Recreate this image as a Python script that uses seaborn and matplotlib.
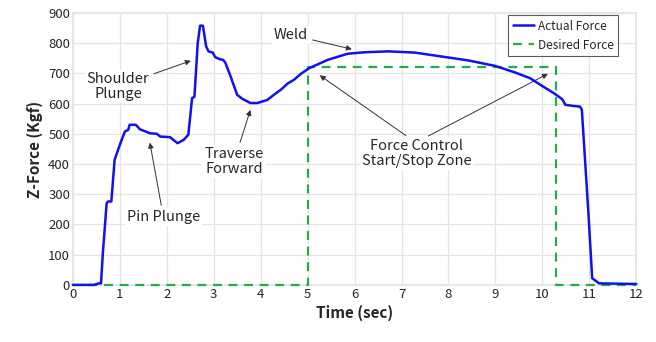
import numpy as np
import pandas as pd
import matplotlib
matplotlib.use("Agg")
import matplotlib.pyplot as plt
import seaborn as sns

# actual force
actual_t = [0.0, 0.45, 0.55, 0.6, 0.64, 0.72, 0.75, 0.82, 0.89, 0.97, 1.04, 1.11, 1.18,
            1.21, 1.34, 1.43, 1.64, 1.79, 1.86, 2.07, 2.23, 2.36, 2.46, 2.54, 2.59, 2.66,
            2.71, 2.77, 2.84, 2.89, 2.98, 3.03, 3.13, 3.2, 3.25, 3.36, 3.5, 3.61, 3.78,
            3.93, 4.14, 4.28, 4.43, 4.57, 4.71, 4.86, 5.03, 5.43, 5.85, 6.21, 6.71, 7.28,
            7.85, 8.42, 8.99, 9.42, 9.74, 9.99, 10.24, 10.42, 10.49, 10.63, 10.8, 10.84,
            10.98, 11.06, 11.21, 12.0]
actual_f = [0, 0, 5, 5, 106, 270, 276, 276, 414, 450, 480, 508, 513,
            530, 530, 515, 502, 500, 491, 489, 469, 480, 497, 618, 623, 800,
            858, 858, 789, 773, 769, 754, 747, 745, 735, 690, 629, 616, 602,
            602, 612, 629, 646, 666, 679, 699, 717, 745, 765, 770, 773, 769,
            756, 743, 725, 703, 684, 659, 635, 615, 596, 593, 590, 580,
            237, 22, 5, 3]

# desired force step profile
desired_t = [0.0, 5.0, 5.0, 10.29, 10.29, 12.0]
desired_f = [0, 0, 720, 720, 0, 0]

x_ticks = list(range(0, 13))
y_ticks = list(range(0, 1000, 100))

sns.set_theme(style="whitegrid")
plt.rcParams['font.family'] = ['Noto Sans CJK KR', 'DejaVu Sans']

fig = plt.figure(figsize=(6.56, 3.42), dpi=100)
ax = fig.add_axes([0.111, 0.167, 0.859, 0.795])

sns.lineplot(x=actual_t, y=actual_f, ax=ax, color="#1010F0", linewidth=1.8,
             estimator=None, sort=False, label="Actual Force", clip_on=False, zorder=4)
sns.lineplot(x=desired_t, y=desired_f, ax=ax, color="#1FAF4A", linewidth=1.6,
             estimator=None, sort=False, label="Desired Force", linestyle=(0, (4, 3)),
             clip_on=False, zorder=3)

ax.set_xlim(0, 12)
ax.set_ylim(0, 900)
ax.set_xticks(x_ticks)
ax.set_yticks(y_ticks)
ax.tick_params(labelsize=9.5, pad=2, length=0)
ax.grid(color="#e4e4e4", linewidth=0.9)
for s in ax.spines.values():
    s.set_color("#e4e4e4")
ax.set_xlabel("Time (sec)", fontsize=11, fontweight="bold", labelpad=3)
ax.set_ylabel("Z-Force (Kgf)", fontsize=11, fontweight="bold", labelpad=4)

leg = ax.legend(loc="upper right", bbox_to_anchor=(0.968, 0.993), fontsize=8.5,
                frameon=True, fancybox=False, borderaxespad=0.0,
                handlelength=1.8, handletextpad=0.3)
leg.get_frame().set_edgecolor("#333333")
leg.get_frame().set_linewidth(0.8)

box = dict(facecolor="white", edgecolor="none", pad=1.5)
arrow = dict(arrowstyle="-|>", color="#333333", lw=0.7, mutation_scale=8)
fs = 10.5

ax.annotate("Shoulder\nPlunge", xy=(2.57, 745), xytext=(0.96, 657), ha="center",
            va="center", fontsize=fs, bbox=box, arrowprops=arrow, linespacing=1.1)
ax.annotate("Pin Plunge", xy=(1.63, 480), xytext=(1.93, 224), ha="center",
            va="center", fontsize=fs, bbox=box, arrowprops=arrow)
ax.annotate("Traverse\nForward", xy=(3.8, 588), xytext=(3.43, 408), ha="center",
            va="center", fontsize=fs, bbox=box, arrowprops=arrow, linespacing=1.1)
ax.annotate("Weld", xy=(6.0, 778), xytext=(4.64, 828), ha="center",
            va="center", fontsize=fs, bbox=box, arrowprops=arrow)
ax.annotate("Force Control\nStart/Stop Zone", xy=(5.21, 699), xytext=(7.32, 434),
            ha="center", va="center", fontsize=fs, bbox=box,
            arrowprops=dict(arrow, relpos=(0.45, 1.0)), linespacing=1.1)
ax.annotate("Force Control\nStart/Stop Zone", xy=(10.17, 703), xytext=(7.32, 434),
            ha="center", va="center", fontsize=fs, bbox=box,
            arrowprops=dict(arrow, relpos=(0.55, 1.0)), linespacing=1.1)

fig.savefig("out.png", dpi=100)
